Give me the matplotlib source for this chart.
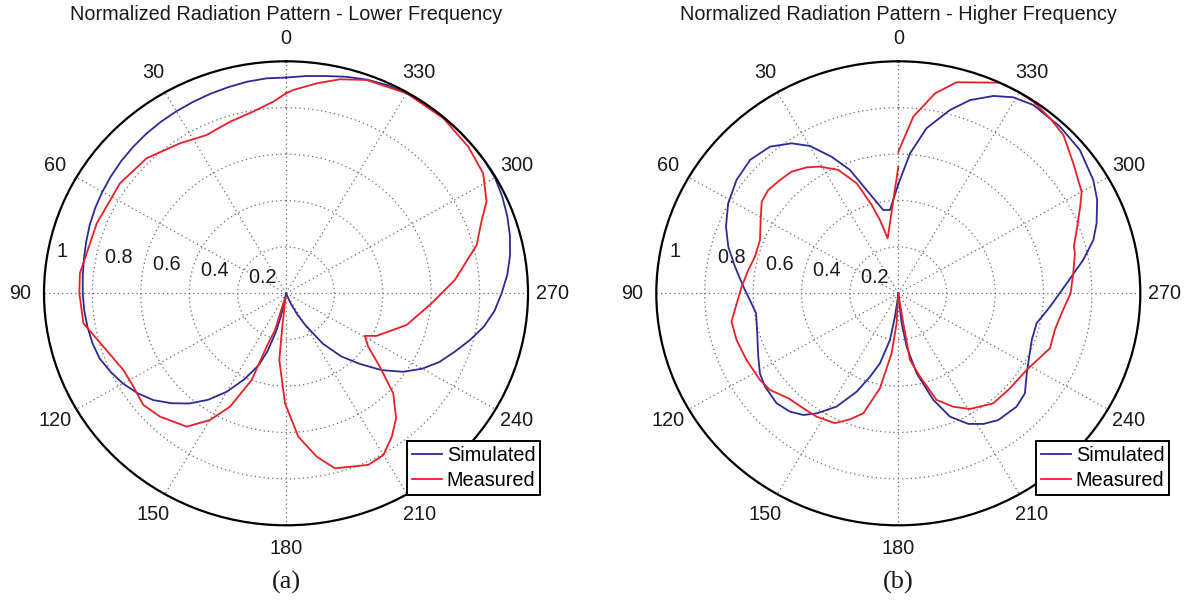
import numpy as np
import matplotlib
matplotlib.use("Agg")
import matplotlib.pyplot as plt

plt.rcParams['font.family'] = ['Liberation Sans', 'DejaVu Sans']

# ---------------- data (angle in degrees, normalized magnitude) ----------------
theta_sim_a = [0, 5, 10, 15, 20, 25, 30, 35, 40, 45, 50, 55, 60, 65, 70, 75, 80, 85, 90, 95,
               100, 105, 110, 115, 120, 125, 130, 135, 140, 145, 150, 155, 160, 163, 166,
               168, 171, 180, 200, 204, 207, 210, 215, 220, 225, 230, 235, 240, 245, 250,
               255, 260, 265, 270, 275, 280, 285, 290, 295, 300, 305, 310, 315, 320, 325,
               330, 335, 340, 345, 350, 355, 360]
r_sim_a = [0.93, 0.93, 0.926, 0.92, 0.915, 0.91, 0.906, 0.902, 0.898, 0.893, 0.888, 0.882,
           0.876, 0.87, 0.863, 0.855, 0.848, 0.843, 0.84, 0.837, 0.833, 0.828, 0.82, 0.80,
           0.778, 0.75, 0.716, 0.67, 0.62, 0.56, 0.49, 0.41, 0.33, 0.26, 0.17, 0.10, 0.03,
           0.0, 0.0, 0.05, 0.10, 0.155, 0.265, 0.355, 0.43, 0.515, 0.59, 0.65, 0.70, 0.74,
           0.785, 0.83, 0.865, 0.891, 0.918, 0.94, 0.958, 0.973, 0.986, 0.997, 1.0, 1.0,
           1.0, 1.0, 0.999, 0.996, 0.99, 0.98, 0.966, 0.951, 0.94, 0.93]

theta_meas_a = [0, 3.6, 9.8, 17.3, 25.7, 34.1, 44.7, 55.4, 68.9, 84.2, 90, 98.8, 106.9, 116.2,
                121.3, 129.2, 135.6, 144.5, 150.1, 154.7, 159.2, 160.8, 164, 168, 173, 174,
                174.5, 179.5, 184.7, 190.2, 195, 204.7, 210, 215.3, 220.2, 225.8, 230.8,
                235.9, 240.6, 243.9, 254.7, 265.9, 274.7, 284.8, 291.3, 295.5, 302.4, 310,
                319.2, 329.9, 340.1, 346.4, 352, 358, 360]
r_meas_a = [0.862, 0.828, 0.795, 0.775, 0.757, 0.781, 0.819, 0.834, 0.838, 0.856, 0.854, 0.847,
            0.789, 0.749, 0.747, 0.761, 0.744, 0.706, 0.63, 0.54, 0.40, 0.243, 0.165, 0.02,
            0.02, 0.159, 0.289, 0.474, 0.62, 0.715, 0.781, 0.814, 0.805, 0.757, 0.705,
            0.618, 0.50, 0.41, 0.374, 0.417, 0.517, 0.603, 0.70, 0.815, 0.868, 0.918,
            0.965, 0.983, 0.996, 0.996, 0.978, 0.949, 0.914, 0.877, 0.862]

theta_sim_b = [0, 5.5, 9.8, 16.4, 20.6, 25.1, 29.9, 34.3, 40, 46.8, 53.8, 61.1, 68, 74, 80.3,
               87.4, 92.7, 98.3, 106.5, 115.3, 121.1, 126.1, 133.3, 138.7, 143.2, 146.9,
               152.4, 157.9, 162, 165.9, 170.3, 172.2, 178, 180, 183, 186.1, 188.5, 192.4,
               197.5, 201.9, 207.2, 212, 217.1, 225, 230.5, 237, 243.2, 250, 257.3, 264.8,
               273.5, 280.7, 285.9, 290.2, 296.1, 301.2, 309.5, 317.1, 325.5, 330.7, 335.2,
               340.4, 344.9, 350.7, 355.4, 360]
r_sim_b = [0.47, 0.361, 0.364, 0.464, 0.568, 0.65, 0.7325, 0.7825, 0.825, 0.84, 0.828, 0.803,
           0.768, 0.731, 0.685, 0.641, 0.614, 0.594, 0.608, 0.64, 0.668, 0.682, 0.691, 0.679,
           0.655, 0.618, 0.551, 0.458, 0.378, 0.311, 0.204, 0.1015, 0.01, 0.0, 0.01, 0.13,
           0.2326, 0.353, 0.482, 0.573, 0.633, 0.664, 0.685, 0.691, 0.678, 0.633, 0.606,
           0.587, 0.586, 0.63, 0.697, 0.778, 0.838, 0.873, 0.915, 0.942, 0.972, 0.981,
           0.985, 0.969, 0.937, 0.884, 0.818, 0.721, 0.605, 0.47]

theta_meas_b = [0, 10.5, 13.5, 16.1, 19.9, 25, 30.7, 34.9, 40.1, 45, 50.4, 55, 60.9, 68.1, 75.1,
                80.8, 87.5, 93.7, 100, 106.7, 114.6, 123.1, 128.2, 134.9, 141.6, 147.6,
                154.9, 159.8, 164.4, 169.5, 173.9, 176.9, 180, 189.1, 189.5, 194, 199, 204.9,
                210.7, 219.6, 228.4, 238.1, 249.3, 256.3, 262.7, 270, 276.8, 283.3, 285.5,
                290.3, 296.4, 300, 307.8, 315, 320.3, 326, 330.8, 335.2, 345.2, 350, 355.35, 360]
r_meas_b = [0.545, 0.241, 0.325, 0.396, 0.504, 0.587, 0.635, 0.662, 0.685, 0.691, 0.698, 0.689,
            0.651, 0.616, 0.613, 0.628, 0.648, 0.669, 0.70, 0.698, 0.69, 0.683, 0.674, 0.641,
            0.632, 0.63, 0.618, 0.579, 0.537, 0.4165, 0.26, 0.129, 0.0, 0.131, 0.291, 0.37,
            0.486, 0.539, 0.58, 0.6155, 0.617, 0.625, 0.67, 0.666, 0.68, 0.712, 0.728, 0.75,
            0.753, 0.786, 0.839, 0.875, 0.915, 0.965, 0.981, 0.997, 1.0, 1.0, 0.941, 0.875,
            0.764, 0.61]

angle_ticks = list(range(0, 360, 30))
radial_ticks = [0.2, 0.4, 0.6, 0.8, 1.0]
radial_labels = ['0.2', '0.4', '0.6', '0.8', '1']
titles = ['Normalized Radiation Pattern - Lower Frequency',
          'Normalized Radiation Pattern - Higher Frequency']
panel_labels = ['(a)', '(b)']
series_names = ['Simulated', 'Measured']

# ---------------- layout ----------------
W, H = 1184, 604
fig = plt.figure(figsize=(W / 100, H / 100), dpi=100)

BLUE = '#2a2c96'
RED = '#ea1f27'
FS = 14.3

centers_x = [286.0, 898.3]
cy = 293.3
rx, ry = 242.0, 232.0
legend_left = [407, 1036]
legend_top = 441

panels = [(theta_sim_a, r_sim_a, theta_meas_a, r_meas_a),
          (theta_sim_b, r_sim_b, theta_meas_b, r_meas_b)]

for i, (ts, rs, tm, rm) in enumerate(panels):
    cx = centers_x[i]
    left = (cx - rx) / W
    bottom = (H - (cy + ry)) / H
    ax = fig.add_axes([left, bottom, 2 * rx / W, 2 * ry / H], projection='polar')
    ax.set_aspect('auto')
    ax.set_theta_zero_location('N')
    ax.set_theta_direction(1)
    ax.set_ylim(0, 1)
    ax.set_rgrids([0.2, 0.4, 0.6, 0.8], labels=[''] * 4)
    ax.set_thetagrids(angle_ticks, labels=[''] * len(angle_ticks))
    ax.grid(True, linestyle=(0, (1, 2.5)), color='#6a6a6a', linewidth=0.9)
    ax.tick_params(length=0)
    ax.spines['polar'].set_linewidth(1.6)
    ax.spines['polar'].set_color('black')

    l1, = ax.plot(np.deg2rad(ts), rs, color=BLUE, lw=1.3, label=series_names[0])
    l2, = ax.plot(np.deg2rad(tm), rm, color=RED, lw=1.3, label=series_names[1])

    for a in angle_ticks:
        ax.text(np.deg2rad(a), 1.1, str(a), ha='center', va='center', fontsize=FS,
                color='#1a1a1a', clip_on=False)
    for rv, lab in zip(radial_ticks, radial_labels):
        ax.text(np.deg2rad(82), rv, '  ' + lab, ha='left', va='bottom', fontsize=FS,
                color='#1a1a1a', clip_on=False)

    ax.set_title(titles[i], y=1 + (cy - ry - 15) / (2 * ry), pad=0, va='center',
                 fontsize=FS, color='#1a1a1a')

    leg = fig.legend(handles=[l1, l2], loc='upper left',
                     bbox_to_anchor=(legend_left[i] / W, 1 - legend_top / H),
                     bbox_transform=fig.transFigure, fontsize=FS, frameon=True,
                     fancybox=False, shadow=False, framealpha=1, edgecolor='black',
                     borderpad=0.25, handlelength=1.5, handletextpad=0.25,
                     labelspacing=0.3, borderaxespad=0)
    leg.get_frame().set_linewidth(1.4)

    fig.text(cx / W, 1 - 582 / H, panel_labels[i], ha='center', va='center',
             fontsize=19, family=['Liberation Serif', 'DejaVu Serif'], color='#1a1a1a')

fig.savefig('out.png', dpi=100)
